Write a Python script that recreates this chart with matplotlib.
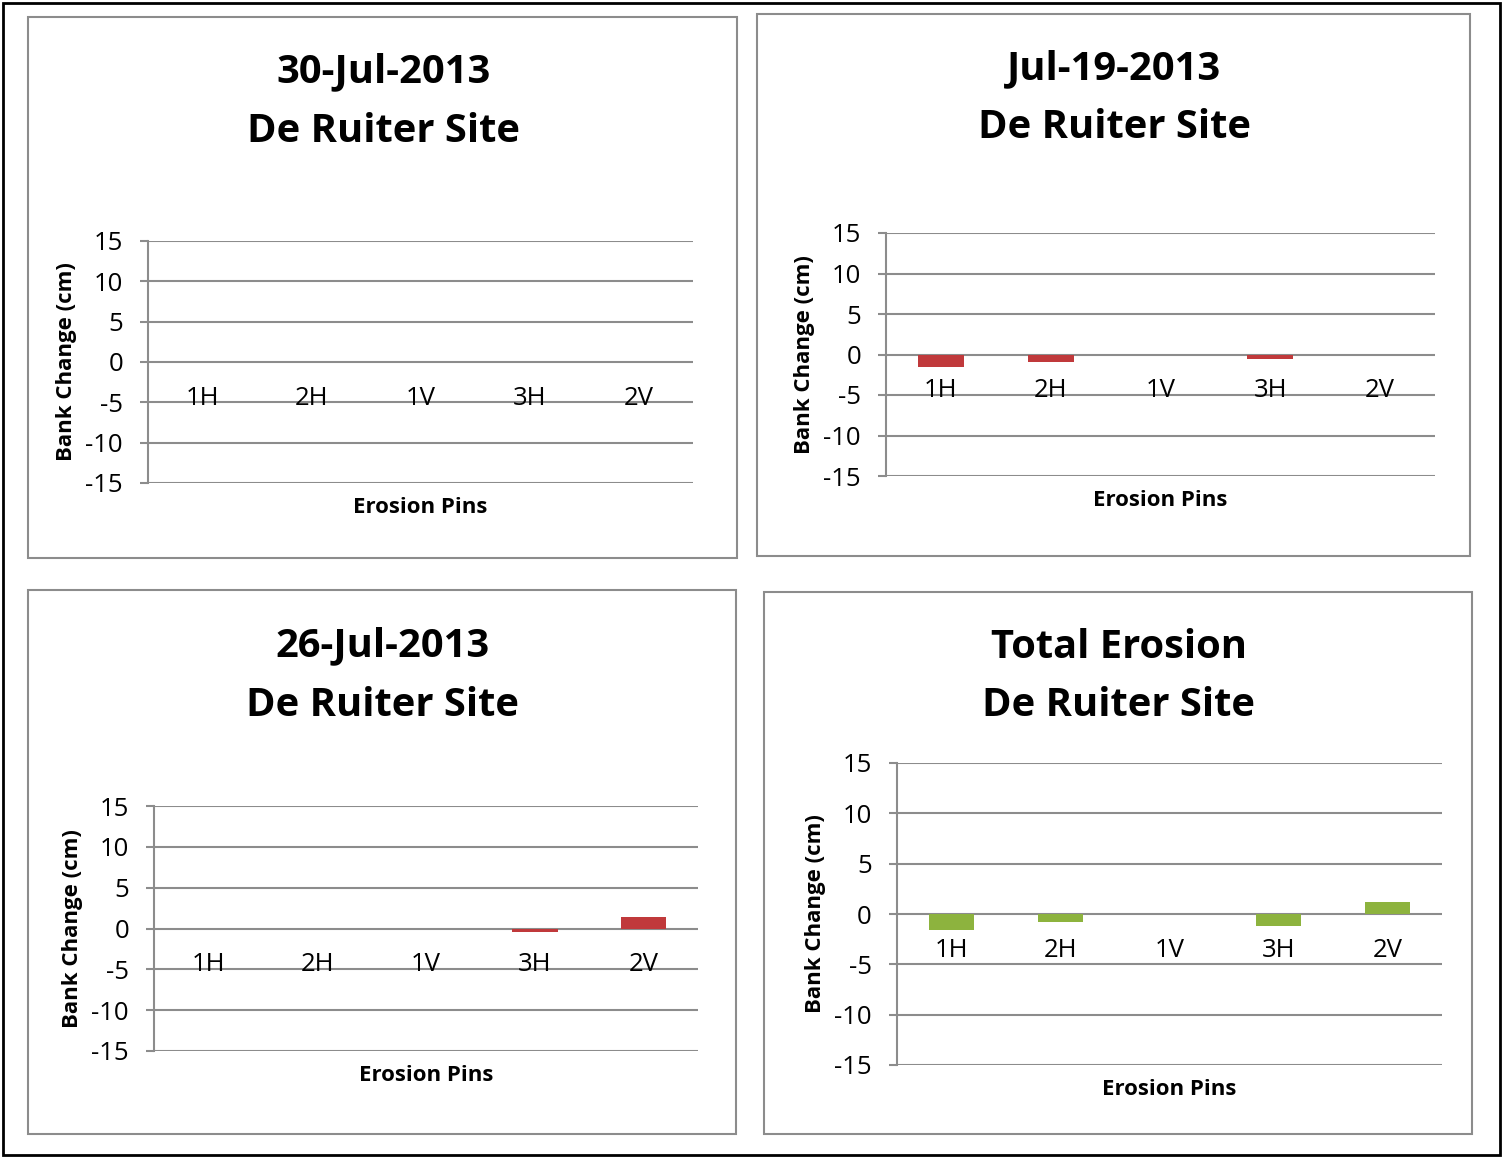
import matplotlib.pyplot as plt
from matplotlib.patches import Rectangle
import numpy as np

plt.rcParams['font.family'] = ['Open Sans', 'DejaVu Sans']

pins = ['1H', '2H', '1V', '3H', '2V']
titles = [['30-Jul-2013', 'De Ruiter Site'], ['Jul-19-2013', 'De Ruiter Site'],
          ['26-Jul-2013', 'De Ruiter Site'], ['Total Erosion', 'De Ruiter Site']]
jul30 = [0, 0, 0, 0, 0]
jul19 = [-1.6, -0.9, 0, -0.6, 0]
jul26 = [0, 0, 0, -0.4, 1.4]
total = [-1.6, -0.8, 0, -1.2, 1.2]
series = [jul30, jul19, jul26, total]
colors = ['#C0393B', '#C0393B', '#C0393B', '#8DB33E']
yticks = [-15, -10, -5, 0, 5, 10, 15]

W, H = 1502, 1158
fig = plt.figure(figsize=(W / 100, H / 100), dpi=100)

def fx(x):
    return x / W

def fy(y):
    return 1 - y / H

# outer frame
fig.patches.append(Rectangle((fx(3), fy(1155)), fx(1497), 1152 / H, transform=fig.transFigure,
                             fill=False, edgecolor='black', linewidth=2))

# panel boxes (left, top, right, bottom) and plot areas in pixels
boxes = [(28, 17, 737, 558), (757, 14, 1470, 556), (28, 590, 736, 1134), (764, 592, 1472, 1134)]
areas = [(148, 241, 693, 483), (886, 233, 1435, 476), (154, 806, 698, 1051), (897, 763, 1442, 1065)]
title_y = [72, 69, 646, 647]

for k in range(4):
    l, t, r, b = boxes[k]
    fig.patches.append(Rectangle((fx(l), fy(b)), fx(r - l), (b - t) / H, transform=fig.transFigure,
                                 fill=False, edgecolor='#8c8c8c', linewidth=1.5))
    for j, line in enumerate(titles[k]):
        fig.text(fx((l + r) / 2 + 1), fy(title_y[k] + 59 * j), line, ha='center', va='center',
                 fontsize=28.7, fontweight='bold')

    al, at, ar, ab = areas[k]
    ax = fig.add_axes([fx(al), fy(ab), fx(ar - al), (ab - at) / H])
    x = np.arange(len(pins))
    ax.bar(x, series[k], width=0.42, color=colors[k], zorder=3)
    ax.set_xlim(-0.5, len(pins) - 0.5)
    ax.set_ylim(-15, 15)
    ax.set_yticks(yticks)
    ax.set_yticklabels([str(v) for v in yticks], fontsize=18.5)
    ax.grid(axis='y', color='#8c8c8c', linewidth=1.5, zorder=0)
    ax.set_axisbelow(True)
    for s in ['top', 'right', 'bottom']:
        ax.spines[s].set_visible(False)
    ax.spines['left'].set_color('#8c8c8c')
    ax.spines['left'].set_linewidth(1.5)
    ax.tick_params(axis='y', length=6, color='#8c8c8c', width=1.5, pad=12)
    ax.set_xticks([])
    for i, p in enumerate(pins):
        ax.annotate(p, (i, 0), xytext=(0, -26), textcoords='offset points',
                    ha='center', va='center', fontsize=18.5)
    ax.set_xlabel('Erosion Pins', fontsize=16, fontweight='bold', labelpad=10)
    ax.set_ylabel('Bank Change (cm)', fontsize=16, fontweight='bold', labelpad=6)

fig.savefig('out.png', dpi=100)
